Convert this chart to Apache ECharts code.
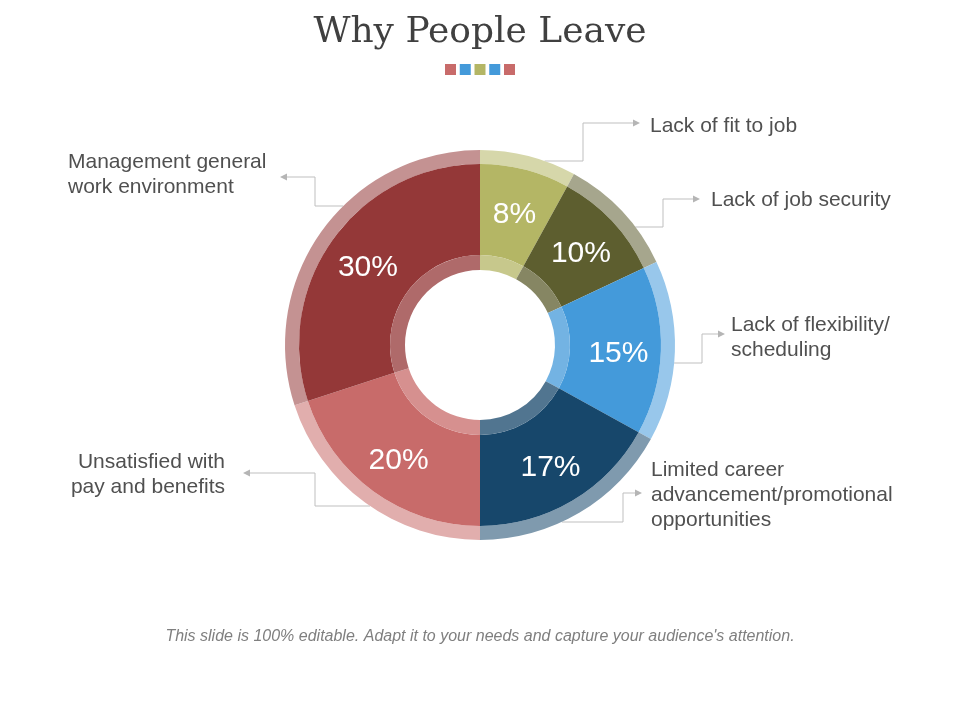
<!DOCTYPE html>
<html>
<head>
<meta charset="utf-8">
<script src="https://cdn.jsdelivr.net/npm/echarts@6/dist/echarts.min.js"></script>
<style>
  html, body { margin: 0; padding: 0; background: #ffffff; }
  #chart { width: 960px; height: 720px; }
</style>
</head>
<body>
<div id="chart"></div>
<script>
// ---- data ----
const categories = [
  'Lack of fit to job',
  'Lack of job security',
  'Lack of flexibility/\nscheduling',
  'Limited career\nadvancement/promotional\nopportunities',
  'Unsatisfied with\npay and benefits',
  'Management general\nwork environment'
];
const values = [8, 10, 15, 17, 20, 30];
const titleText = 'Why People Leave';
const footerText = "This slide is 100% editable. Adapt it to your needs and capture your audience's attention.";

// ---- styles / layout ----
const colors = ['#B4B665', '#5D5E2F', '#449ADA', '#17476B', '#C86B6A', '#943838'];
const squareColors = ['#C86B6A', '#449ADA', '#B4B665', '#449ADA', '#C86B6A'];
const CX = 480, CY = 345;
const R_HOLE = 75, R_INNER = 90, R_MAIN = 181, R_OUT = 195;
// connector layout per category (side: 1 = right, -1 = left)
const connectors = [
  { side: 1,  startY: 161, elbowX: 583, arrowY: 123, tipX: 640, textX: 650, textY: 126, align: 'left' },
  { side: 1,  startY: 227, elbowX: 663, arrowY: 199, tipX: 700, textX: 711, textY: 200, align: 'left' },
  { side: 1,  startY: 363, elbowX: 702, arrowY: 334, tipX: 725, textX: 731, textY: 338, align: 'left' },
  { side: 1,  startY: 522, elbowX: 623, arrowY: 493, tipX: 642, textX: 651, textY: 495, align: 'left' },
  { side: -1, startY: 506, elbowX: 315, arrowY: 473, tipX: 243, textX: 225, textY: 475, align: 'right' },
  { side: -1, startY: 206, elbowX: 315, arrowY: 177, tipX: 280, textX: 68,  textY: 175, align: 'left' }
];

function mixWhite(hex, t) { // t = share of the colour
  const n = parseInt(hex.slice(1), 16);
  const ch = [(n >> 16) & 255, (n >> 8) & 255, n & 255].map(v => Math.round(v * t + 255 * (1 - t)));
  return 'rgb(' + ch.join(',') + ')';
}

const makeData = (t) => categories.map((name, i) => ({
  name: name, value: values[i], itemStyle: { color: t === 1 ? colors[i] : mixWhite(colors[i], t) }
}));

const chart = echarts.init(document.getElementById('chart'), null, { renderer: 'canvas' });

const graphics = [];
squareColors.forEach((c, i) => {
  graphics.push({
    type: 'rect', silent: true,
    shape: { x: 445 + i * 14.75, y: 64, width: 11, height: 11 },
    style: { fill: c }
  });
});
connectors.forEach(c => {
  const back = c.tipX - c.side * 7;
  graphics.push({
    type: 'polygon', silent: true, z: 10,
    shape: { points: [[c.tipX, c.arrowY], [back, c.arrowY - 3.5], [back, c.arrowY + 3.5]] },
    style: { fill: '#B5B5B5' }
  });
});

const option = {
  backgroundColor: '#ffffff',
  animation: false,
  title: [
    {
      text: titleText, left: 'center', top: 10,
      textStyle: { fontFamily: 'DejaVu Serif', fontSize: 36, fontWeight: 'normal', color: '#404040' }
    },
    {
      text: footerText, left: 'center', top: 624,
      textStyle: { fontFamily: 'Liberation Sans', fontSize: 16, fontStyle: 'italic', fontWeight: 'normal', color: '#7F7F7F' }
    }
  ],
  graphic: graphics,
  series: [
    {
      type: 'pie', name: 'outer', center: [CX, CY], radius: [R_MAIN, R_OUT],
      startAngle: 90, clockwise: true, avoidLabelOverlap: false,
      itemStyle: { borderWidth: 0 },
      data: makeData(0.55),
      label: {
        show: true, position: 'outside', formatter: '{b}',
        fontFamily: 'Liberation Sans', fontSize: 21, lineHeight: 25, color: '#505050'
      },
      labelLine: { show: true, smooth: false, lineStyle: { color: '#BFBFBF', width: 1 } },
      labelLayout: function (p) {
        const c = connectors[p.dataIndex];
        const dy = c.startY - CY;
        const sx = CX + c.side * Math.sqrt(R_OUT * R_OUT - dy * dy);
        return {
          x: c.textX, y: c.textY, align: c.align, verticalAlign: 'middle',
          labelLinePoints: [[sx, c.startY], [c.elbowX, c.startY], [c.elbowX, c.arrowY], [c.tipX - c.side * 3, c.arrowY]]
        };
      },
      emphasis: { disabled: true }
    },
    {
      type: 'pie', name: 'main', center: [CX, CY], radius: [R_INNER, R_MAIN],
      startAngle: 90, clockwise: true,
      itemStyle: { borderWidth: 0 },
      data: makeData(1),
      label: {
        show: true, position: 'inside', formatter: '{c}%',
        fontFamily: 'Liberation Sans', fontSize: 30, color: '#ffffff'
      },
      labelLayout: { dy: 4 },
      labelLine: { show: false },
      emphasis: { disabled: true }
    },
    {
      type: 'pie', name: 'inner', center: [CX, CY], radius: [R_HOLE, R_INNER],
      startAngle: 90, clockwise: true,
      itemStyle: { borderWidth: 0 },
      data: makeData(0.75),
      label: { show: false },
      labelLine: { show: false },
      emphasis: { disabled: true }
    }
  ]
};
chart.setOption(option);
</script>
</body>
</html>
